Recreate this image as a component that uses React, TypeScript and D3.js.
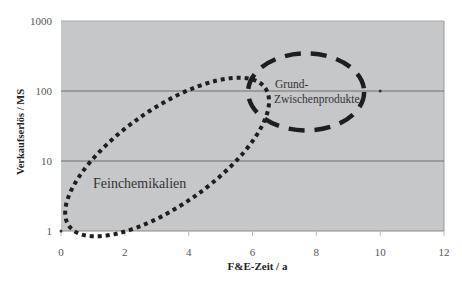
import React from "react";
import * as d3 from "d3";

const X_TICKS = [0, 2, 4, 6, 8, 10, 12];
const Y_TICKS = [1, 10, 100, 1000];
const GRID_Y = [10, 100];
const POINTS: [number, number][] = [
  [0, 1],
  [10, 100],
];
// Feinchemikalien ellipse: two tips in data coords
const FEIN_TIP_A: [number, number] = [0.25, 1.18];
const FEIN_TIP_B: [number, number] = [6.4, 110];
// Grund-/Zwischenprodukte ellipse centre in data coords
const GRUND_CENTER: [number, number] = [7.68, 97];

const W = 462;
const H = 281;
const M = { left: 61, right: 18, top: 21, bottom: 50 };

export default function App() {
  const x = d3.scaleLinear().domain([0, 12]).range([M.left, W - M.right]);
  const y = d3.scaleLog().domain([1, 1000]).range([H - M.bottom, M.top]);
  const x0 = x(0), x1 = x(12), y0 = y(1), y1 = y(1000);

  const ax = x(FEIN_TIP_A[0]), ay = y(FEIN_TIP_A[1]);
  const bx = x(FEIN_TIP_B[0]), by = y(FEIN_TIP_B[1]);
  const fcx = (ax + bx) / 2, fcy = (ay + by) / 2;
  const fa = Math.hypot(bx - ax, by - ay) / 2;
  const fang = (Math.atan2(by - ay, bx - ax) * 180) / Math.PI;

  const gcx = x(GRUND_CENTER[0]), gcy = y(GRUND_CENTER[1]);

  const serif = "'Liberation Serif', 'DejaVu Serif', serif";

  return (
    <svg
      width={W}
      height={H}
      style={{ position: "absolute", left: 0, top: 0, background: "#fff" }}
      fontFamily={serif}
    >
      <rect x={x0} y={y1} width={x1 - x0} height={y0 - y1} fill="#c6c7c9" />
      <line x1={x0} x2={x1} y1={y1} y2={y1} stroke="#a8a8a8" strokeWidth={1} />
      <line x1={x1} x2={x1} y1={y1} y2={y0} stroke="#9a9a9a" strokeWidth={1} />
      {GRID_Y.map((v) => (
        <line key={v} x1={x0} x2={x1} y1={y(v)} y2={y(v)} stroke="#6e6e6e" strokeWidth={1} />
      ))}
      <line x1={x0} x2={x1} y1={y0} y2={y0} stroke="#8a8a8a" strokeWidth={1} />
      {X_TICKS.map((t) => (
        <g key={t}>
          <line x1={x(t)} x2={x(t)} y1={y0} y2={y0 + 5} stroke="#b8b8b8" strokeWidth={1} />
          <text x={x(t)} y={y0 + 25} textAnchor="middle" fontSize={11} fill="#555">
            {t}
          </text>
        </g>
      ))}
      {Y_TICKS.map((t) => (
        <text key={t} x={x0 - 9} y={y(t) + 4} textAnchor="end" fontSize={11} fill="#555">
          {t}
        </text>
      ))}
      {POINTS.map((p, i) => (
        <circle key={i} cx={x(p[0])} cy={y(p[1])} r={1.5} fill="#333" />
      ))}
      <ellipse
        cx={fcx}
        cy={fcy}
        rx={fa}
        ry={48}
        transform={`rotate(${fang} ${fcx} ${fcy})`}
        fill="none"
        stroke="#1e1e1e"
        strokeWidth={4}
        strokeDasharray="4 4"
      />
      <ellipse
        cx={gcx}
        cy={gcy}
        rx={58}
        ry={38.5}
        fill="none"
        stroke="#1e1e1e"
        strokeWidth={4.5}
        strokeDasharray="16 10"
      />
      <text x={93} y={188} fontSize={14} fill="#333">
        Feinchemikalien
      </text>
      <text x={275} y={88} fontSize={11.5} fill="#333">
        Grund-
      </text>
      <text x={274} y={103} fontSize={11.5} fill="#333">
        Zwischenprodukte
      </text>
      <text
        x={(x0 + x1) / 2 + 5}
        y={270}
        textAnchor="middle"
        fontSize={11}
        fontWeight="bold"
        fill="#222"
      >
        F&amp;E-Zeit / a
      </text>
      <text
        transform={`translate(24 ${(y0 + y1) / 2 + 6}) rotate(-90)`}
        textAnchor="middle"
        fontSize={10.5}
        fontWeight="bold"
        fill="#222"
      >
        Verkaufserlös / MS
      </text>
    </svg>
  );
}
